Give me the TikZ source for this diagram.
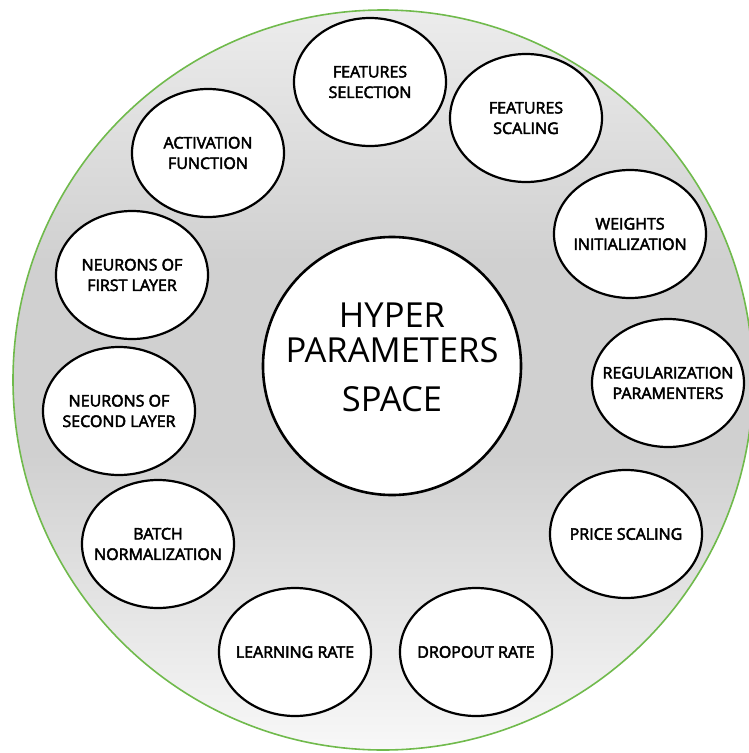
\documentclass[tikz,border=0pt]{standalone}
\usepackage{fontspec}
\setmainfont{Open Sans}
\newfontfamily\knobfont{Open Sans}[FakeBold=3]
\usetikzlibrary{shapes.geometric}

\definecolor{rimgreen}{RGB}{112,186,76}
\definecolor{shadetop}{RGB}{236,236,236}
\definecolor{shademid}{RGB}{208,208,208}
\definecolor{shadebot}{RGB}{248,248,248}

% light at both ends, grey in the middle
\pgfdeclareverticalshading{spaceshade}{100bp}{color(0bp)=(shadebot); color(25bp)=(shadebot);
    color(45bp)=(shademid); color(58bp)=(shademid); color(75bp)=(shadetop); color(100bp)=(shadetop)}

\tikzset{
    knob/.style={ellipse, draw=black, line width=2.2pt, fill=white,
        minimum width=152pt, minimum height=128pt, inner xsep=-16pt, inner ysep=0pt,
        align=center, font=\knobfont\fontsize{16}{20.5}\selectfont},
    hub/.style={circle, draw=black, line width=2.6pt, fill=white,
        minimum size=258pt, inner sep=0pt},
}

\begin{document}
\begin{tikzpicture}[x=1pt, y=-1pt]

    % the frame
    \useasboundingbox (0,0) rectangle (749,753);
    \path[clip] (0,0) rectangle (749,753);

    % the space
    \path[draw=rimgreen, line width=1.6pt, shading=spaceshade] (383,380) circle (370);

    % the centre
    \node[hub] (hub) at (392,366) {};
    \node[align=center, font=\fontsize{34.5}{35}\selectfont] (title) at (392,357)
        {HYPER\\PARAMETERS\\[14pt]SPACE};

    % the hyper parameters
    \foreach \x/\y/\name/\txt in {
        370/82/featsel/{FEATURES\\SELECTION},
        526/118/featscale/{FEATURES\\SCALING},
        208/153/activation/{ACTIVATION\\FUNCTION},
        630/234/weights/{WEIGHTS\\INITIALIZATION},
        132/275/firstlayer/{NEURONS OF\\FIRST LAYER},
        668/383/regular/{REGULARIZATION\\PARAMENTERS},
        119/411/secondlayer/{NEURONS OF\\SECOND LAYER},
        626/534/price/{PRICE SCALING},
        158/544/batchnorm/{BATCH\\NORMALIZATION},
        295/652/lrate/{LEARNING RATE},
        476/652/dropout/{DROPOUT RATE}} {
        \node[knob] (\name) at (\x,\y) {\txt};
    }

\end{tikzpicture}
\end{document}
